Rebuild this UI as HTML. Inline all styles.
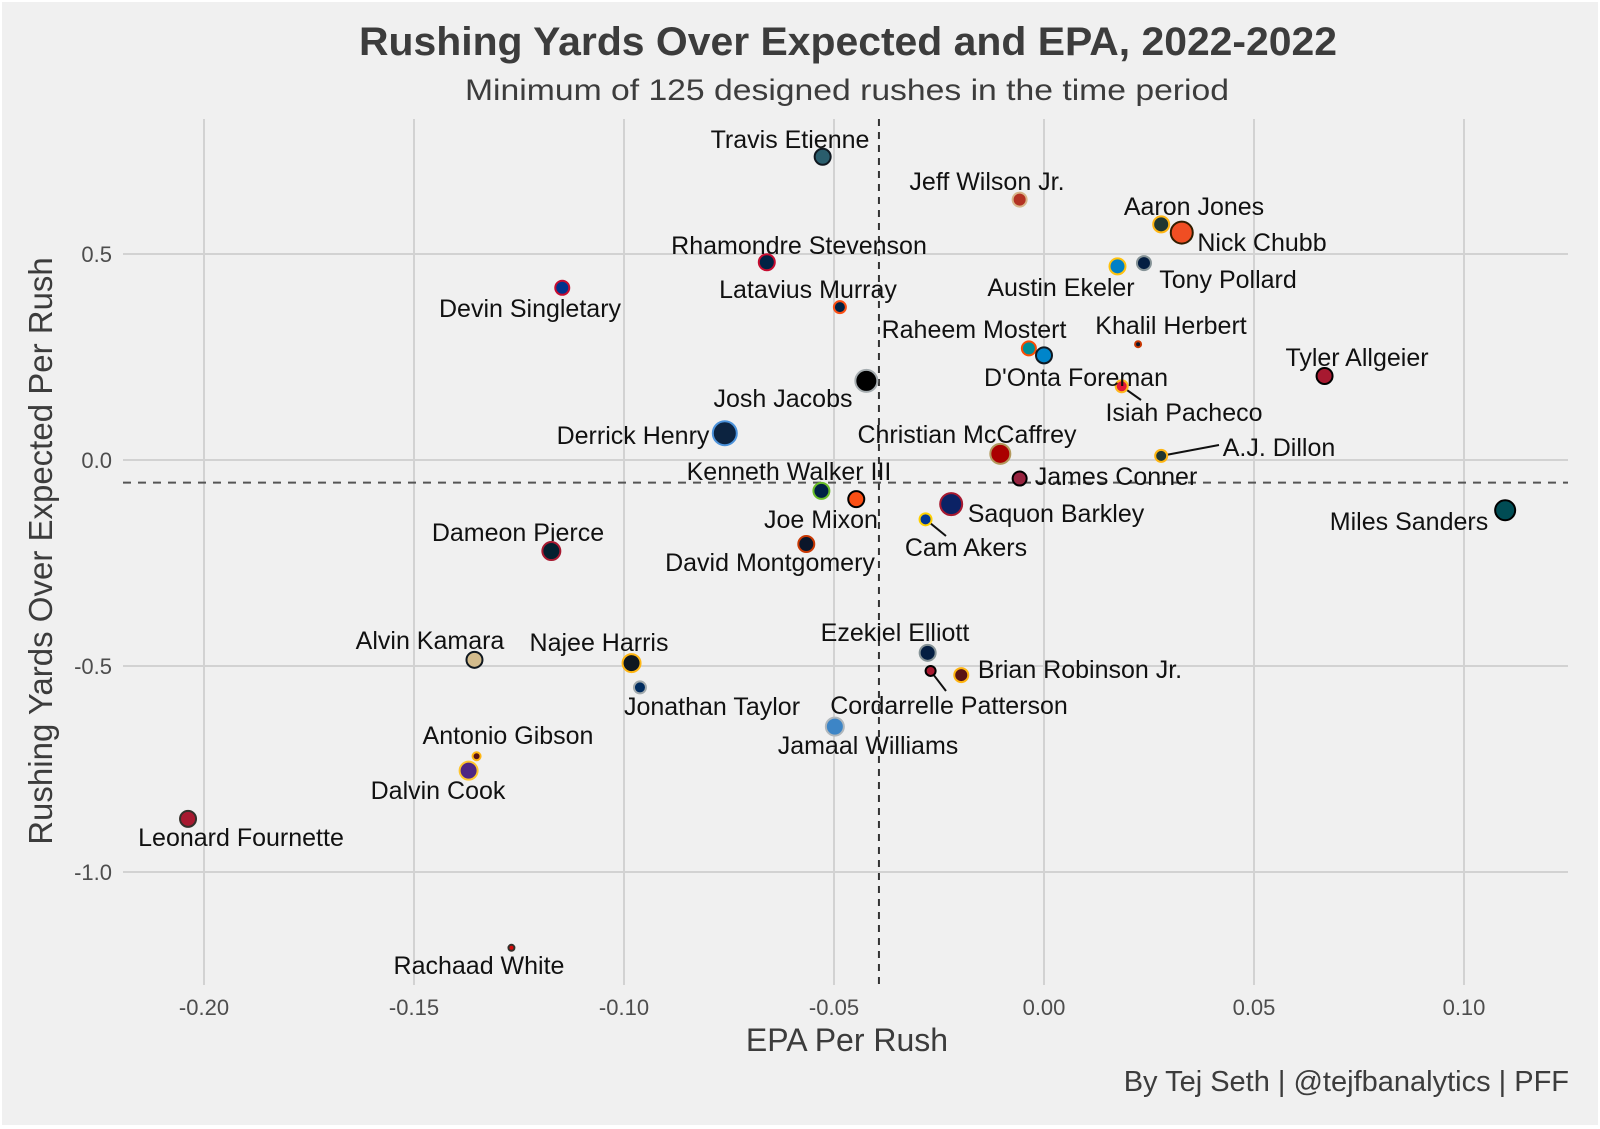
<!DOCTYPE html>
<html><head><meta charset="utf-8"><style>
html,body{margin:0;padding:0;background:#fff;}
svg{display:block;font-family:"Liberation Sans",Arial,sans-serif;}
</style></head><body>
<svg id="chart" width="1600" height="1129" viewBox="0 0 1600 1129" xmlns="http://www.w3.org/2000/svg">
<rect x="2" y="2" width="1596" height="1123" fill="#f0f0f0"/>
<g id="grid"></g>
<g id="marks"></g>
<text x="359" y="55" font-size="40" font-weight="bold" fill="#3c3c3c" textLength="978" lengthAdjust="spacingAndGlyphs">Rushing Yards Over Expected and EPA, 2022-2022</text>
<text x="465" y="100" font-size="30" fill="#3c3c3c" textLength="764" lengthAdjust="spacingAndGlyphs">Minimum of 125 designed rushes in the time period</text>
<text x="847" y="1051" font-size="32" fill="#3c3c3c" text-anchor="middle">EPA Per Rush</text>
<text transform="translate(52,551) rotate(-90)" font-size="33" fill="#3c3c3c" text-anchor="middle">Rushing Yards Over Expected Per Rush</text>
<text x="1569" y="1091" font-size="29" fill="#3c3c3c" text-anchor="end">By Tej Seth | @tejfbanalytics | PFF</text>
</svg>
<script>
const players = ["Travis Etienne","Jeff Wilson Jr.","Aaron Jones","Nick Chubb","Tony Pollard","Austin Ekeler","Rhamondre Stevenson","Devin Singletary","Latavius Murray","Khalil Herbert","Raheem Mostert","D'Onta Foreman","Tyler Allgeier","Josh Jacobs","Isiah Pacheco","Derrick Henry","Christian McCaffrey","A.J. Dillon","James Conner","Kenneth Walker III","Joe Mixon","Saquon Barkley","Miles Sanders","Cam Akers","David Montgomery","Dameon Pierce","Ezekiel Elliott","Alvin Kamara","Najee Harris","Cordarrelle Patterson","Brian Robinson Jr.","Jonathan Taylor","Jamaal Williams","Antonio Gibson","Dalvin Cook","Leonard Fournette","Rachaad White"];
const epa = [-0.0527,-0.0058,0.0279,0.0328,0.0238,0.0175,-0.066,-0.1147,-0.0486,0.0224,-0.0036,0.0,0.0668,-0.0423,0.0185,-0.076,-0.0104,0.0279,-0.0058,-0.053,-0.0447,-0.0221,0.1098,-0.0282,-0.0566,-0.1173,-0.0277,-0.1356,-0.0982,-0.027,-0.0197,-0.0962,-0.0498,-0.1351,-0.137,-0.2038,-0.1268];
const ryoe = [0.736,0.632,0.572,0.552,0.478,0.470,0.480,0.418,0.371,0.281,0.271,0.254,0.204,0.192,0.179,0.065,0.015,0.010,-0.045,-0.075,-0.095,-0.107,-0.122,-0.144,-0.204,-0.221,-0.468,-0.485,-0.493,-0.512,-0.522,-0.552,-0.647,-0.719,-0.754,-0.871,-1.184];
const rushes = [245,225,245,305,225,245,245,225,205,145,225,245,245,305,205,325,285,205,225,245,245,305,285,205,245,265,245,245,265,185,225,205,265,165,265,245,145];
const fills = ["#2a5d6c","#b33222","#203731","#f04e23","#041e42","#0080c6","#002244","#00338d","#002244","#0b162a","#008e97","#0085ca","#a71930","#000000","#e31837","#0c2340","#aa0000","#203731","#97233f","#002244","#fb4f14","#0b2265","#004c54","#003594","#0b162a","#03202f","#041e42","#d3bc8d","#101820","#a71930","#5a1414","#002c5f","#3d85c6","#5a1414","#4f2683","#a71930","#d50a0a"];
const strokes = ["#101820","#d8b58a","#ffb612","#311d00","#869397","#ffc20e","#c60c30","#c60c30","#fb4f14","#c83803","#fc4c02","#101820","#000000","#a5acaf","#ffb81c","#4b92db","#b3995d","#ffb612","#000000","#69be28","#000000","#a71930","#000000","#ffd100","#c83803","#a71930","#869397","#101820","#ffb612","#000000","#ffb612","#a2aaad","#b0b7bc","#ffb612","#ffc62f","#34302b","#34302b"];
const xTicks = [-0.20,-0.15,-0.10,-0.05,0.00,0.05,0.10];
const xTickLabels = ["-0.20","-0.15","-0.10","-0.05","0.00","0.05","0.10"];
const yTicks = [0.5,0.0,-0.5,-1.0];
const yTickLabels = ["0.5","0.0","-0.5","-1.0"];
const meanEpa = -0.0393;
const meanRyoe = -0.055;
// label layout (center x, baseline y) in pixels
const labelPos = [[790,148],[987,190],[1194,215],[1262,251],[1228,288],[1061,296],[799,254],[530,317],[808,298],[1171,334],[974,338],[1076,386],[1357,366],[783,407],[1184,421],[633,444],[967,443],[1279,456],[1116,485],[789,480],[821,528],[1056,522],[1409,530],[966,556],[770,571],[518,541],[895,641],[430,649],[599,651],[949,714],[1080,678],[712,715],[868,754],[508,744],[438,799],[241,846],[479,974]];
const leaders = {14:[1141,400],17:[1219,445],23:[946,536],29:[946,691]};

const X0=1044, XK=4200, Y0=460, YK=412;
const xs = v => X0 + v*XK;
const ys = v => Y0 - v*YK;
const rs = n => 2 + (n-125)/20;
const NS="http://www.w3.org/2000/svg";
function mk(tag, attrs, parent){const e=document.createElementNS(NS,tag);for(const k in attrs)e.setAttribute(k,attrs[k]);parent.appendChild(e);return e;}
const grid=document.getElementById('grid'), marks=document.getElementById('marks');
const PL=123, PR=1568, PT=119, PB=985;
xTicks.forEach((t,i)=>{
  const l=mk('line',{x1:xs(t),x2:xs(t),y1:PT,y2:PB,stroke:'#d2d2d2','stroke-width':2},grid);
  
  
  const tx=mk('text',{x:xs(t),y:1015,'font-size':22,fill:'#4d4d4d','text-anchor':'middle'},grid);
  tx.textContent=xTickLabels[i];
  
  
});
yTicks.forEach((t,i)=>{
  const l=mk('line',{x1:PL,x2:PR,y1:ys(t),y2:ys(t),stroke:'#d2d2d2','stroke-width':2},grid);
  
  
  const tx=mk('text',{x:112,y:ys(t)+8,'font-size':22,fill:'#4d4d4d','text-anchor':'end'},grid);
  tx.textContent=yTickLabels[i];
  
  
});
const vd=mk('line',{x1:xs(meanEpa),x2:xs(meanEpa),y1:PT,y2:PB,stroke:'#333','stroke-width':2,'stroke-dasharray':'7,6'},grid);


const hd=mk('line',{x1:PL,x2:PR,y1:ys(meanRyoe),y2:ys(meanRyoe),stroke:'#555','stroke-width':2,'stroke-dasharray':'8,7'},grid);


players.forEach((p,i)=>{
  const cx=xs(epa[i]), cy=ys(ryoe[i]);
  if(leaders[i]){
    const ll=mk('line',{x1:cx,y1:cy,x2:leaders[i][0],y2:leaders[i][1],stroke:'#111','stroke-width':2},marks);
    
    
  }
  const c=mk('circle',{cx:cx,cy:cy,r:rs(rushes[i]),fill:fills[i],stroke:strokes[i],'stroke-width':2},marks);
  
  
});
players.forEach((p,i)=>{
  const t=mk('text',{x:labelPos[i][0],y:labelPos[i][1],'font-size':25,fill:'#111','text-anchor':'middle'},marks);
  t.textContent=p;
  
  
});
</script>
</body></html>
